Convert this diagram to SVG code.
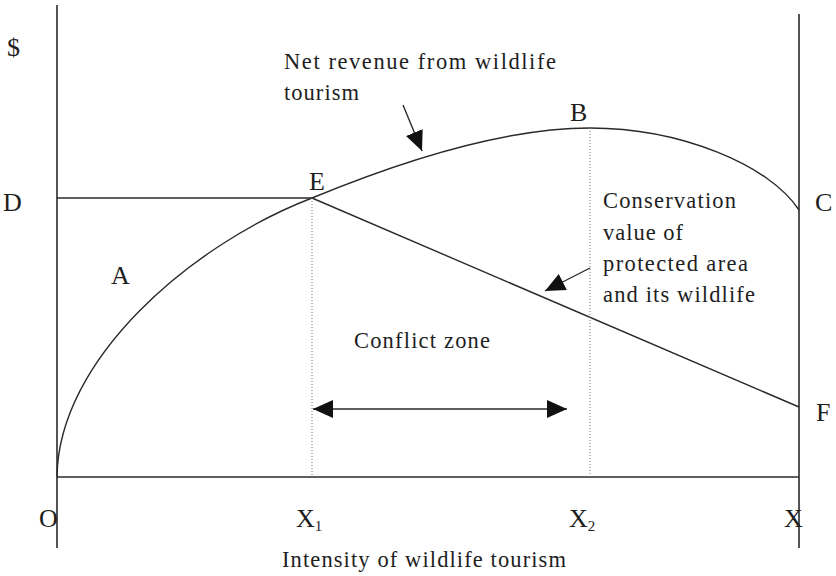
<svg xmlns="http://www.w3.org/2000/svg" width="836" height="576" viewBox="0 0 836 576">
  <style>
    .axis { stroke: #2a2a2a; stroke-width: 1.6; fill: none; }
    .curve { stroke: #2a2a2a; stroke-width: 1.4; fill: none; }
    .guide { stroke: #777; stroke-width: 1; stroke-dasharray: 1 2; fill: none; }
    .lbl { font-family: "Liberation Serif", "Times New Roman", serif; fill: #1e1e1e; }
    .pt { font-size: 26px; }
    .txt { font-size: 22.5px; }
    .sub { font-size: 15px; }
  </style>
  <defs>
    <marker id="head" markerUnits="userSpaceOnUse" markerWidth="22" markerHeight="20" refX="20" refY="9" orient="auto-start-reverse">
      <path d="M0,0 L20,9 L0,18 Z" fill="#111"/>
    </marker>
  </defs>

  <!-- axes and frame -->
  <g id="axes">
    <line class="axis" x1="57" y1="5" x2="57" y2="548"/>
    <line class="axis" x1="799" y1="14" x2="799" y2="548"/>
    <line class="axis" x1="57" y1="477" x2="799" y2="477"/>
  </g>

  <!-- curves and guide lines -->
  <g id="connectors">
    <!-- net revenue from wildlife tourism: O - E - B - C -->
    <path id="revenue" class="curve" d="M57,477 C58,360 190,245 312,198 C375,172 490,128 590,128 C680,128 770,165 799,210"/>
    <!-- level D to E -->
    <line class="curve" x1="57" y1="198" x2="312" y2="198"/>
    <!-- conservation value E to F -->
    <line id="conservation" class="curve" x1="312" y1="198" x2="799" y2="407"/>
    <!-- dotted verticals at X1 and X2 -->
    <line class="guide" x1="312" y1="198" x2="312" y2="477"/>
    <line class="guide" x1="590" y1="128" x2="590" y2="477"/>
    <!-- conflict zone span -->
    <line class="curve" x1="313" y1="409" x2="567" y2="409" stroke-width="2" marker-start="url(#head)" marker-end="url(#head)"/>
    <!-- callout arrows -->
    <line class="curve" x1="403" y1="105" x2="422" y2="151" marker-end="url(#head)"/>
    <line class="curve" x1="590" y1="268" x2="545" y2="291" marker-end="url(#head)"/>
  </g>

  <g id="point-labels" class="lbl pt">
    <text x="7" y="56">$</text>
    <text x="3" y="211">D</text>
    <text x="815" y="211">C</text>
    <text x="570" y="121">B</text>
    <text x="309" y="190">E</text>
    <text x="111" y="284">A</text>
    <text x="816" y="421">F</text>
    <text x="39" y="527">O</text>
    <text x="296" y="527">X<tspan class="sub" dy="4">1</tspan></text>
    <text x="569" y="527">X<tspan class="sub" dy="4">2</tspan></text>
    <text x="784" y="527">X</text>
  </g>

  <g id="revenue-label" class="lbl txt">
    <text x="284" y="69" textLength="272" lengthAdjust="spacing">Net revenue from wildlife</text>
    <text x="284" y="100" textLength="75" lengthAdjust="spacing">tourism</text>
  </g>

  <g id="conservation-label" class="lbl txt">
    <text x="603" y="208" textLength="133" lengthAdjust="spacing">Conservation</text>
    <text x="603" y="240" textLength="80" lengthAdjust="spacing">value of</text>
    <text x="603" y="271" textLength="145" lengthAdjust="spacing">protected area</text>
    <text x="603" y="302" textLength="152" lengthAdjust="spacing">and its wildlife</text>
  </g>

  <g id="conflict-label" class="lbl txt">
    <text x="354" y="348" textLength="136" lengthAdjust="spacing">Conflict zone</text>
  </g>

  <g id="x-axis-title" class="lbl txt">
    <text x="282" y="567" textLength="284" lengthAdjust="spacing">Intensity of wildlife tourism</text>
  </g>
</svg>
